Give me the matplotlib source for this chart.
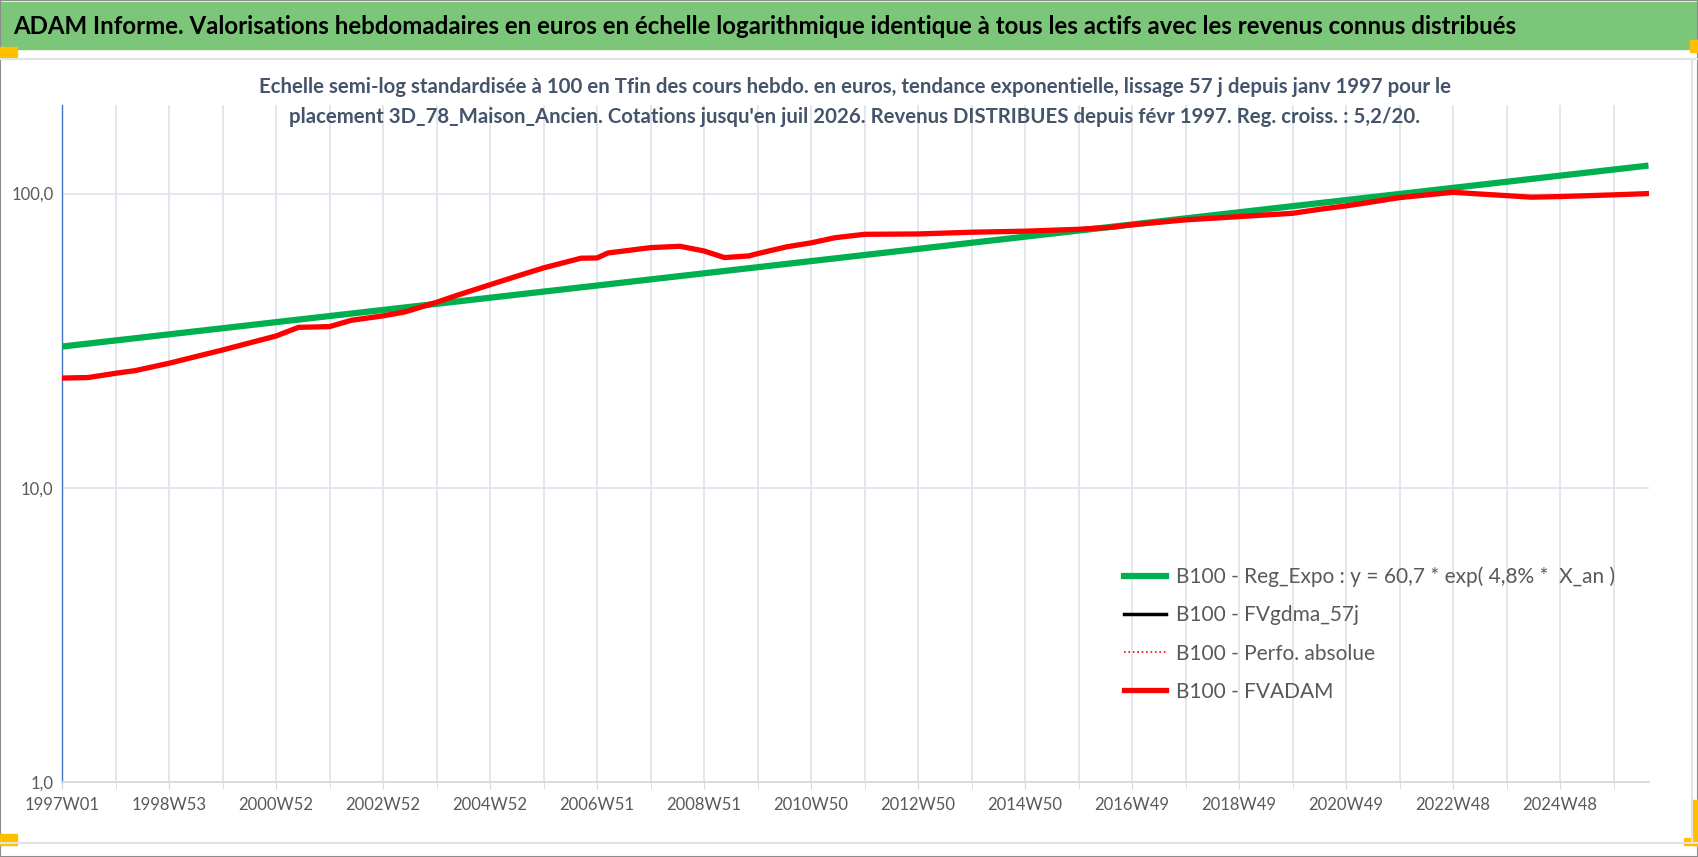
import numpy as np
import matplotlib
matplotlib.use('Agg')
import matplotlib.pyplot as plt
from matplotlib.patches import Rectangle
from matplotlib.lines import Line2D

plt.rcParams['font.family'] = ['Lato', 'DejaVu Sans']

# data (x in years, 1997W01 = 1997.0)
red_years = [1997.0, 1997.49, 1998.0, 1998.36, 1999.0, 2000.0, 2001.0, 2001.42, 2002.0,
             2002.41, 2003.0, 2003.41, 2004.0, 2004.4, 2005.0, 2005.49, 2006.0, 2006.7,
             2007.0, 2007.2, 2008.0, 2008.55, 2009.0, 2009.38, 2009.84, 2010.0, 2010.54,
             2011.0, 2011.45, 2012.0, 2013.0, 2014.0, 2015.0, 2016.0, 2016.6, 2017.0,
             2018.0, 2019.0, 2020.0, 2020.52, 2021.0, 2021.41, 2022.0, 2023.0, 2023.48,
             2024.0, 2024.46, 2025.0, 2026.0, 2026.65]
red_vals = [23.6, 23.7, 24.5, 25.0, 26.5, 29.4, 32.8, 35.1, 35.3,
            37.1, 38.4, 39.6, 42.7, 45.2, 49.0, 52.3, 55.9, 60.3,
            60.4, 62.8, 65.5, 66.2, 63.8, 60.6, 61.4, 62.5, 65.9,
            68.0, 70.8, 72.7, 72.9, 73.9, 74.5, 75.6, 76.8, 78.4,
            81.4, 83.5, 85.7, 88.5, 90.8, 93.2, 96.9, 101.0, 99.7,
            98.4, 97.2, 97.7, 99.0, 100.0]
green_years = [1997.0, 2026.65]
green_vals = [30.2, 124.5]

tick_pos = [1997, 1999, 2001, 2003, 2005, 2007, 2009, 2011, 2013, 2015, 2017, 2019, 2021, 2023, 2025]
tick_labels = ['1997W01', '1998W53', '2000W52', '2002W52', '2004W52', '2006W51', '2008W51',
               '2010W50', '2012W50', '2014W50', '2016W49', '2018W49', '2020W49', '2022W48', '2024W48']

W, H = 1698, 857
fig = plt.figure(figsize=(W/100, H/100), dpi=100)

def px(x, y, w, h):
    return (x/W, 1 - (y+h)/H, w/W, h/H)

# frame, title band, excel handles
fig.patches.append(Rectangle((0, 0), 1, 1, transform=fig.transFigure, fill=False, edgecolor='#8c8c8c', lw=1.5))
x0, y0, w0, h0 = px(0, 2, W, 47)
fig.patches.append(Rectangle((x0, y0), w0, h0, transform=fig.transFigure, color='#7cc67a', zorder=0))
fig.add_artist(Line2D([0, 1], [1-59/H, 1-59/H], transform=fig.transFigure, color='#e3e3e3', lw=1.5))
fig.add_artist(Line2D([0, 1], [1-843/H, 1-843/H], transform=fig.transFigure, color='#e3e3e3', lw=1.5))
fig.add_artist(Line2D([1692/W, 1692/W], [1-843/H, 1-59/H], transform=fig.transFigure, color='#e3e3e3', lw=1.5))
for (x, y, w, h) in [(0, 47, 17, 10), (0, 834, 17, 11), (1692, 800, 6, 45), (1684, 838, 14, 7), (1690, 40, 8, 12)]:
    a, b, c, d = px(x, y, w, h)
    fig.patches.append(Rectangle((a, b), c, d, transform=fig.transFigure, color='#ffc000', zorder=1))

fig.text(13/W, 1-26/H, "ADAM Informe. Valorisations hebdomadaires en euros en échelle logarithmique identique à tous les actifs avec les revenus connus distribués",
         fontsize=17.3, fontweight='bold', color='black', va='center', ha='left')

ax = fig.add_axes([62/W, 1-782/H, (1649-62)/W, (782-105)/H])
ax.set_yscale('log')
ax.set_xlim(1997.0, 2026.66)
ax.set_ylim(1, 200)

ax.plot(red_years, red_vals, color='black', lw=2, zorder=3)
ax.plot(red_years, red_vals, color='red', lw=1, ls=':', zorder=3)
ax.plot(green_years, green_vals, color='#00b050', lw=4.5, zorder=4, solid_capstyle='butt')
ax.plot(red_years, red_vals, color='#ff0000', lw=3.8, zorder=5)

ax.set_yticks([1, 10, 100])
ax.set_yticklabels(['1,0', '10,0', '100,0'])
ax.yaxis.set_minor_locator(matplotlib.ticker.NullLocator())
ax.set_xticks(tick_pos)
ax.set_xticklabels(tick_labels)
ax.set_xticks(np.arange(1998, 2027), minor=True)
ax.tick_params(axis='y', length=0, labelsize=12, labelcolor='#595959', pad=6)
ax.tick_params(axis='x', which='both', length=5, color='#d9d9d9', labelsize=12, labelcolor='#595959', pad=6)
ax.grid(True, which='both', axis='x', color='#e1e4ea', lw=1.3)
ax.grid(True, which='major', axis='y', color='#e1e4ea', lw=1.3)
ax.set_axisbelow(True)
for s in ['top', 'right']:
    ax.spines[s].set_visible(False)
ax.spines['left'].set_color('#4472c4')
ax.spines['left'].set_linewidth(1)
ax.spines['bottom'].set_color('#d9d9d9')
ax.spines['bottom'].set_linewidth(1.3)

fig.text(855/W, 1-87/H, "Echelle semi-log standardisée à 100 en Tfin des cours hebdo. en euros, tendance exponentielle, lissage 57 j depuis janv 1997 pour le",
         fontsize=14.7, fontweight='bold', color='#44546a', ha='center', va='center')
fig.text(855/W, 1-117/H, "placement 3D_78_Maison_Ancien. Cotations jusqu'en juil 2026. Revenus DISTRIBUES depuis févr 1997. Reg. croiss. : 5,2/20.",
         fontsize=14.7, fontweight='bold', color='#44546a', ha='center', va='center')

handles = [Line2D([], [], color='#00b050', lw=4.5),
           Line2D([], [], color='black', lw=2.5),
           Line2D([], [], color='red', lw=1.2, ls=':'),
           Line2D([], [], color='#ff0000', lw=3.8)]
labels = ['B100 - Reg_Expo : y = 60,7 * exp( 4,8% *  X_an )', 'B100 - FVgdma_57j',
          'B100 - Perfo. absolue', 'B100 - FVADAM']
leg = ax.legend(handles, labels, loc='upper left', bbox_to_anchor=((1105-62)/(1649-62), (782-548)/(782-105)),
                frameon=False, fontsize=15, handlelength=2.05, labelspacing=0.87, handletextpad=0.45)
for t in leg.get_texts():
    t.set_color('#595959')

fig.savefig('out.png', dpi=100)
